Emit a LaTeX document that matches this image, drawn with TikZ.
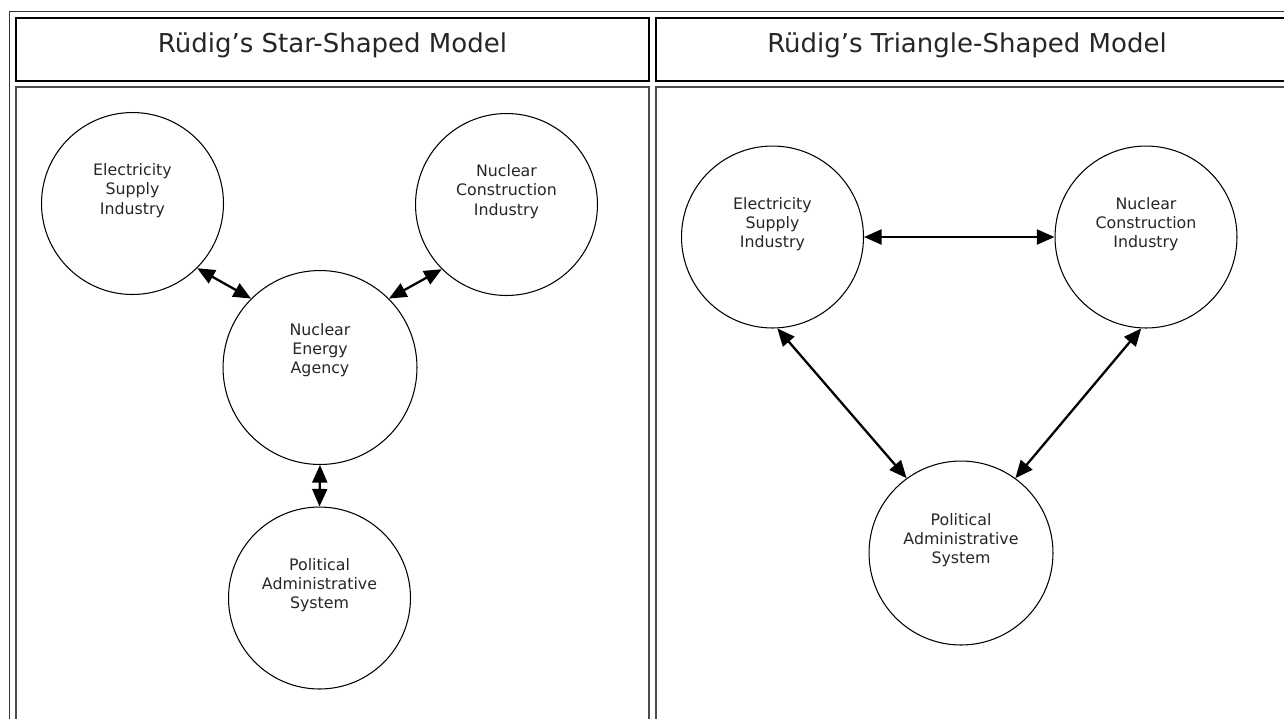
\documentclass[tikz,border=0pt]{standalone}
\usepackage{fontspec}
\setmainfont{DejaVu Sans}
\usetikzlibrary{arrows.meta}

\tikzset{
  bubble/.style={circle, draw, line width=0.6pt, minimum size=3.64cm, inner sep=0pt},
  bubtext/.style={align=center, font=\fontsize{9}{10.9}\selectfont, text=black!85, yshift=7.4pt},
  link/.style={{Triangle[length=10pt,width=8.5pt]}-{Triangle[length=10pt,width=8.5pt]}, line width=1.3pt},
  headcell/.style={draw=black, line width=1.1pt},
  bodycell/.style={draw=black!70, line width=1.1pt},
  heading/.style={font=\fontsize{14.8}{17}\selectfont, text=black!85},
}

\begin{document}
\begin{tikzpicture}[x=0.02cm, y=-0.02cm]
\useasboundingbox (0,0) rectangle (1284,718);
\clip (0,0) rectangle (1284,718);

% table
\draw[black!80, line width=0.9pt] (9.5,11.7) rectangle (1300,740);
\draw[headcell] (16,18) rectangle (649,81);
\draw[headcell] (656,18) rectangle (1290,81);
\draw[bodycell] (16,87) rectangle (649,740);
\draw[bodycell] (656,87) rectangle (1290,740);

\node[heading] (titleA) at (332.5,45) {Rüdig’s Star-Shaped Model};
\node[heading] (titleB) at (967,45) {Rüdig’s Triangle-Shaped Model};

% star model
\node[bubble, label={[bubtext]center:{Electricity\\Supply\\Industry}}] (esiA) at (132.5,203.5) {};
\node[bubble, label={[bubtext]center:{Nuclear\\Construction\\Industry}}] (nciA) at (506.5,204.5) {};
\node[bubble, minimum size=3.88cm, label={[bubtext, yshift=2.6pt]center:{Nuclear\\Energy\\Agency}}] (neaA) at (320,367.5) {};
\node[bubble, label={[bubtext]center:{Political\\Administrative\\System}}] (pasA) at (319.5,598) {};

\draw[link] (esiA.-45) -- (neaA.135);
\draw[link] (nciA.-135) -- (neaA.45);
\draw[link] (neaA.south) -- (pasA.north);

% triangle model
\node[bubble, label={[bubtext]center:{Electricity\\Supply\\Industry}}] (esiB) at (772.5,237) {};
\node[bubble, label={[bubtext]center:{Nuclear\\Construction\\Industry}}] (nciB) at (1146,237) {};
\node[bubble, minimum size=3.68cm, label={[bubtext]center:{Political\\Administrative\\System}}] (pasB) at (961,553) {};

\draw[link] (esiB.east) -- (nciB.west);
\draw[link] (esiB.-87) -- (pasB.126);
\draw[link] (nciB.-93) -- (pasB.54);
\end{tikzpicture}
\end{document}
